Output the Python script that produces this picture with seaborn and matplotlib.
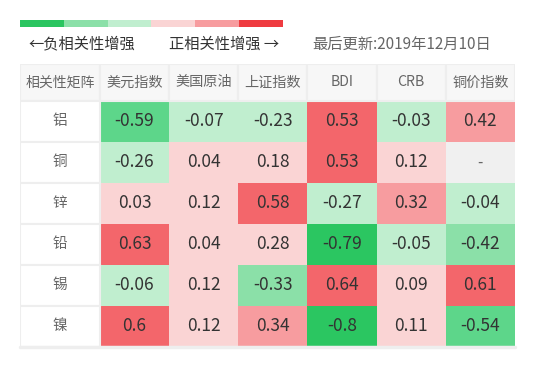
import numpy as np
import pandas as pd
import seaborn as sns
import matplotlib.pyplot as plt
from matplotlib.colors import ListedColormap, BoundaryNorm
from matplotlib.patches import Rectangle

# %%
metals = ['铝', '铜', '锌', '铅', '锡', '镍']
indices = ['美元指数', '美国原油', '上证指数', 'BDI', 'CRB', '铜价指数']

usd = [-0.59, -0.26, 0.03, 0.63, -0.06, 0.6]
oil = [-0.07, 0.04, 0.12, 0.04, 0.12, 0.12]
shanghai = [-0.23, 0.18, 0.58, 0.28, -0.33, 0.34]
bdi = [0.53, 0.53, -0.27, -0.79, 0.64, -0.8]
crb = [-0.03, 0.12, 0.32, -0.05, 0.09, 0.11]
copper = [0.42, np.nan, -0.04, -0.42, 0.61, -0.54]

bounds = [-1, -0.7, -0.5, -0.3, 0, 0.3, 0.5, 0.7, 1]
cell_colors = ['#2bc661', '#5dd68a', '#8be0a8', '#c0eecf',
               '#fad4d4', '#f79c9f', '#f3666b', '#ef3b40']
legend_colors = ['#2ac560', '#8be0a8', '#c0eecf', '#fad4d4', '#f79c9f', '#ef3b40']

# %%
df = pd.DataFrame({'美元指数': usd, '美国原油': oil, '上证指数': shanghai,
                   'BDI': bdi, 'CRB': crb, '铜价指数': copper}, index=metals)
labels = df.map(lambda v: '' if pd.isna(v) else f'{v:g}')

sns.set_style('white')
plt.rcParams['font.family'] = ['Noto Sans CJK SC', 'DejaVu Sans']

W, H = 536, 376
fig = plt.figure(figsize=(W / 100, H / 100), dpi=100)

# colour legend strip
lax = fig.add_axes([20 / W, 1 - 27 / H, 263 / W, 7 / H])
lax.imshow([list(range(6))], cmap=ListedColormap(legend_colors), aspect='auto')
lax.axis('off')

fig.text(28 / W, 1 - 44 / H, '←负相关性增强', fontsize=11, color='#333333', va='center')
fig.text(169 / W, 1 - 44 / H, '正相关性增强 →', fontsize=11, color='#333333', va='center')
fig.text(312 / W, 1 - 44 / H, '最后更新:2019年12月10日', fontsize=11, color='#666666', va='center')

# table
ax = fig.add_axes([20 / W, 1 - 347 / H, 495 / W, 283 / H])
ax.set_facecolor('#f0f0f0')
cmap = ListedColormap(cell_colors)
norm = BoundaryNorm(bounds, cmap.N)
sns.heatmap(df, ax=ax, cmap=cmap, norm=norm, annot=labels, fmt='',
            annot_kws={'fontsize': 12.5, 'color': '#333333'},
            linewidths=0, cbar=False,
            xticklabels=False, yticklabels=False)

lab_w, head_h = 1.156, 0.9
ax.set_xlim(-lab_w, len(indices))
ax.set_ylim(len(metals), -head_h)
for s in ax.spines.values():
    s.set_visible(False)

# header row
ax.add_patch(Rectangle((-lab_w, -head_h), lab_w, head_h, facecolor='#f7f7f7',
                       edgecolor='#eeeeee', lw=1.5))
ax.text(-lab_w / 2, -head_h / 2, '相关性矩阵', ha='center', va='center',
        fontsize=10, color='#666666')
for j, name in enumerate(indices):
    ax.add_patch(Rectangle((j, -head_h), 1, head_h, facecolor='#f7f7f7',
                           edgecolor='#eeeeee', lw=1.5))
    ax.text(j + 0.5, -head_h / 2, name, ha='center', va='center',
            fontsize=10.2, color='#666666')

# row labels
for i, name in enumerate(metals):
    ax.add_patch(Rectangle((-lab_w, i), lab_w, 1, facecolor='white',
                           edgecolor='#eeeeee', lw=1.5))
    ax.text(-lab_w / 2, i + 0.5, name, ha='center', va='center',
            fontsize=10.5, color='#666666')

# missing value
for i, j in zip(*np.where(df.isna().values)):
    ax.text(j + 0.5, i + 0.5, '-', ha='center', va='center',
            fontsize=11, color='#666666')

ax.plot([-lab_w, len(indices)], [len(metals), len(metals)], color='#eeeeee',
        lw=2.5, clip_on=False)

fig.savefig('out.png', dpi=100)
